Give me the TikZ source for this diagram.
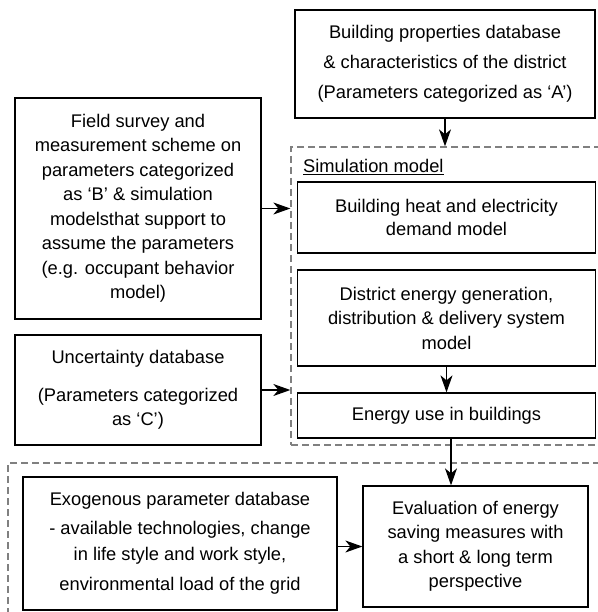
\documentclass[tikz,border=0pt]{standalone}
\usepackage{fontspec}
\setmainfont{Liberation Sans}
\usetikzlibrary{arrows.meta}
\newcommand{\boxfs}{\fontsize{18.3}{24.5}\selectfont}
\tikzset{
  box/.style={draw=black, line width=1.3pt, align=center, inner sep=0pt, font=\boxfs, fill=white},
  dashbox/.style={draw=black!50, line width=1.3pt, dash pattern=on 7pt off 4pt, inner sep=0pt},
  arr/.style={line width=1.3pt, -{Stealth[length=17pt,width=12pt,inset=5pt]}},
}
\begin{document}
\begin{tikzpicture}[x=1pt,y=-1pt]
\useasboundingbox (0,0) rectangle (597,612);
% dashed groups
\node[dashbox, minimum width=314pt, minimum height=298pt] (sim) at (448,296) {};
\node[dashbox, minimum width=597pt, minimum height=157pt] (low) at (306.5,541.5) {};
\node[anchor=base west, font=\boxfs, inner sep=0pt] (simlabel) at (303,173) {\underline{Simulation model}};
% boxes
\node[box, minimum width=300pt, minimum height=108pt] (A) at (445,64)
  {Building properties database\\[5.5pt] \& characteristics of the district\\[5.5pt] (Parameters categorized as ‘A’)};
\node[box, minimum width=298pt, minimum height=71pt] (heat) at (446.5,217.5)
  {Building heat and electricity\\[-2pt] demand model};
\node[box, minimum width=298pt, minimum height=96pt] (dist) at (446.5,318)
  {District energy generation,\\ distribution \& delivery system\\ model};
\node[box, minimum width=298pt, minimum height=45pt] (use) at (446.5,415.5)
  {Energy use in buildings};
\node[box, minimum width=246pt, minimum height=221pt] (field) at (138,208.5)
  {Field survey and\\ measurement scheme on\\ parameters categorized\\ as ‘B’ \& simulation\\ modelsthat support to\\ assume the parameters\\ (e.g. occupant behavior\\ model)};
\node[box, minimum width=246pt, minimum height=110pt] (unc) at (138,390)
  {Uncertainty database\\[13pt] (Parameters categorized\\ as ‘C’)};
\node[box, minimum width=314pt, minimum height=133pt] (exo) at (180,543.5)
  {Exogenous parameter database\\[4.5pt] - available technologies, change\\[1.5pt] in life style and work style,\\[5.5pt] environmental load of the grid};
\node[box, minimum width=225pt, minimum height=121pt] (eval) at (475.5,546.5)
  {Evaluation of energy\\ saving measures with\\ a short \& long term\\ perspective};
% connectors
\draw[arr] (A.south) -- (A.south |- sim.north);
\draw[arr] (field.east) -- (field.east -| sim.west);
\draw[arr] (unc.east) -- (unc.east -| sim.west);
\draw[arr] (dist.south) -- (use.north);
\draw[arr] ([xshift=4.5pt]use.south) -- ([xshift=4.5pt]use.south |- eval.north);
\draw[arr] (exo.east |- eval.west) -- (eval.west);
\end{tikzpicture}
\end{document}
